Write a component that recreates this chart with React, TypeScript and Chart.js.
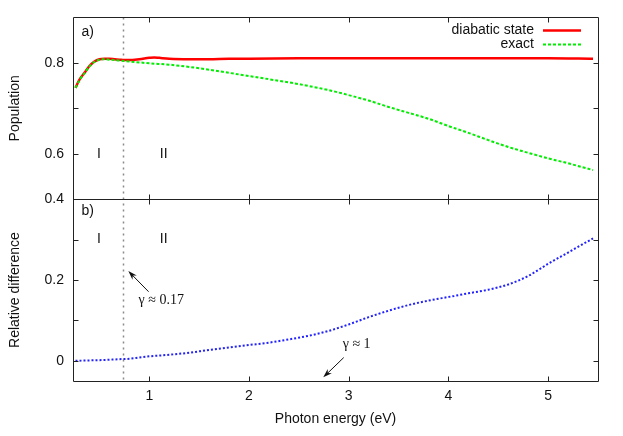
import React, { useEffect, useRef } from 'react';
import { Chart, registerables } from 'chart.js';

Chart.register(...registerables);

// ---- data ----
const diabaticX = [0.26, 0.30, 0.35, 0.40, 0.45, 0.50, 0.55, 0.60, 0.65, 0.70, 0.75, 0.80, 0.90, 1.00, 1.05, 1.10, 1.20, 1.40, 1.60, 1.80, 2.00, 2.50, 3.00, 3.50, 4.00, 4.50, 5.00, 5.45];
const diabaticY = [0.745, 0.763, 0.778, 0.793, 0.803, 0.808, 0.809, 0.809, 0.808, 0.807, 0.806, 0.806, 0.808, 0.811, 0.812, 0.811, 0.809, 0.808, 0.808, 0.809, 0.809, 0.810, 0.810, 0.810, 0.810, 0.810, 0.810, 0.809];

const exactX = [0.26, 0.30, 0.35, 0.40, 0.45, 0.50, 0.55, 0.60, 0.65, 0.70, 0.75, 0.85, 1.0, 1.2, 1.4, 1.6, 1.8, 2.0, 2.2, 2.4, 2.6, 2.8, 3.0, 3.2, 3.4, 3.6, 3.8, 4.0, 4.2, 4.4, 4.6, 4.8, 5.0, 5.2, 5.45];
const exactY = [0.745, 0.762, 0.777, 0.792, 0.802, 0.807, 0.808, 0.807, 0.806, 0.805, 0.804, 0.802, 0.799, 0.796, 0.791, 0.785, 0.778, 0.771, 0.764, 0.757, 0.749, 0.740, 0.729, 0.717, 0.703, 0.690, 0.677, 0.661, 0.646, 0.630, 0.615, 0.602, 0.590, 0.579, 0.564];

const diffX = [0.26, 0.40, 0.55, 0.70, 0.80, 0.90, 1.0, 1.1, 1.2, 1.4, 1.6, 1.8, 2.0, 2.2, 2.4, 2.6, 2.8, 3.0, 3.2, 3.4, 3.6, 3.8, 4.0, 4.2, 4.4, 4.6, 4.8, 5.0, 5.2, 5.45];
const diffY = [0.000, 0.001, 0.002, 0.004, 0.005, 0.008, 0.011, 0.013, 0.015, 0.020, 0.027, 0.033, 0.039, 0.045, 0.053, 0.062, 0.074, 0.090, 0.108, 0.124, 0.138, 0.149, 0.158, 0.167, 0.176, 0.189, 0.210, 0.240, 0.268, 0.303];

const xTickValues = [1, 2, 3, 4, 5];
const xTickLabels = ['1', '2', '3', '4', '5'];
const topTickValues = [0.5, 0.6, 0.7, 0.8, 0.9];
const topTickLabels = ['0.6', '0.8'];
const bottomTickValues = [0, 0.1, 0.2, 0.3, 0.4];
const bottomTickLabels = ['0', '0.2', '0.4'];
const seriesNames = ['diabatic state', 'exact'];

const gammaX = 0.735;

const SANS = '"Liberation Sans", Arial, Helvetica, sans-serif';
const SERIF = '"Liberation Serif", "Times New Roman", serif';
const FRAME = '#222';

function fmt(v: number): string {
  return String(Math.round(v * 1000) / 1000);
}

const overlay = {
  id: 'overlay',
  beforeDatasetsDraw(chart: any) {
    const { ctx, chartArea } = chart;
    const x = chart.scales.x;
    const px = Math.round(x.getPixelForValue(gammaX)) + 0.5;
    ctx.save();
    ctx.strokeStyle = '#8a8a8a';
    ctx.lineWidth = 1.5;
    ctx.setLineDash([2, 4]);
    ctx.beginPath();
    ctx.moveTo(px, chartArea.top);
    ctx.lineTo(px, chartArea.bottom);
    ctx.stroke();
    ctx.restore();
  },
  afterDatasetsDraw(chart: any) {
    const { ctx, chartArea } = chart;
    const x = chart.scales.x;
    const yTop = chart.scales.yTop;
    const yBot = chart.scales.yBot;
    const L = Math.round(chartArea.left) + 0.5;
    const R = Math.round(chartArea.right) + 0.5;
    const T = Math.round(chartArea.top) + 0.5;
    const B = Math.round(chartArea.bottom) + 0.5;
    const M = Math.round(yBot.top) + 0.5;
    const TL = 5;

    ctx.save();
    ctx.strokeStyle = FRAME;
    ctx.lineWidth = 1;
    ctx.setLineDash([]);
    ctx.beginPath();
    ctx.rect(L, T, R - L, B - T);
    ctx.moveTo(L, M);
    ctx.lineTo(R, M);
    // x ticks
    xTickValues.forEach((v) => {
      const p = Math.round(x.getPixelForValue(v)) + 0.5;
      ctx.moveTo(p, T); ctx.lineTo(p, T + TL);
      ctx.moveTo(p, M - TL); ctx.lineTo(p, M + TL);
      ctx.moveTo(p, B); ctx.lineTo(p, B - TL);
    });
    // y ticks
    [yTop, yBot].forEach((s: any) => {
      s.ticks.forEach((t: any) => {
        if (Math.abs(t.value - s.min) < 1e-6 || Math.abs(t.value - s.max) < 1e-6) return;
        const p = Math.round(s.getPixelForValue(t.value)) + 0.5;
        ctx.moveTo(L, p); ctx.lineTo(L + TL, p);
        ctx.moveTo(R, p); ctx.lineTo(R - TL, p);
      });
    });
    ctx.stroke();

    // texts
    ctx.fillStyle = '#111';
    ctx.font = `14px ${SANS}`;
    ctx.textBaseline = 'middle';
    ctx.textAlign = 'left';
    ctx.fillText('a)', x.getPixelForValue(0.319), yTop.getPixelForValue(0.868));
    ctx.fillText('b)', x.getPixelForValue(0.319), yBot.getPixelForValue(0.370));
    ctx.textAlign = 'center';
    ctx.fillText('I', x.getPixelForValue(0.495), yTop.getPixelForValue(0.6));
    ctx.fillText('II', x.getPixelForValue(1.145), yTop.getPixelForValue(0.6));
    ctx.fillText('I', x.getPixelForValue(0.495), yBot.getPixelForValue(0.3));
    ctx.fillText('II', x.getPixelForValue(1.145), yBot.getPixelForValue(0.3));

    // legend
    ctx.textAlign = 'right';
    const lx = chartArea.right - 64;
    const ly1 = chartArea.top + 13;
    const ly2 = chartArea.top + 27;
    ctx.fillText(seriesNames[0], lx, ly1);
    ctx.fillText(seriesNames[1], lx, ly2);
    ctx.lineWidth = 2.5;
    ctx.strokeStyle = '#ff0000';
    ctx.beginPath();
    ctx.moveTo(chartArea.right - 55, ly1);
    ctx.lineTo(chartArea.right - 17, ly1);
    ctx.stroke();
    ctx.lineWidth = 2;
    ctx.strokeStyle = '#00ee00';
    ctx.setLineDash([3, 2]);
    ctx.beginPath();
    ctx.moveTo(chartArea.right - 55, ly2);
    ctx.lineTo(chartArea.right - 17, ly2);
    ctx.stroke();
    ctx.setLineDash([]);

    // gamma annotations
    ctx.font = `14px ${SERIF}`;
    ctx.textAlign = 'center';
    ctx.fillStyle = '#111';
    ctx.fillText('\u03B3 \u2248 0.17', x.getPixelForValue(1.12), yBot.getPixelForValue(0.149));
    ctx.fillText('\u03B3 \u2248 1', x.getPixelForValue(3.08), yBot.getPixelForValue(0.040));

    const arrow = (x0: number, y0: number, x1: number, y1: number) => {
      const a = Math.atan2(y1 - y0, x1 - x0);
      const hl = 9, hw = 3;
      ctx.strokeStyle = '#111';
      ctx.lineWidth = 1;
      ctx.beginPath();
      ctx.moveTo(x0, y0);
      ctx.lineTo(x1 - Math.cos(a) * hl * 0.6, y1 - Math.sin(a) * hl * 0.6);
      ctx.stroke();
      ctx.fillStyle = '#111';
      ctx.beginPath();
      ctx.moveTo(x1, y1);
      ctx.lineTo(x1 - hl * Math.cos(a) + hw * Math.sin(a), y1 - hl * Math.sin(a) - hw * Math.cos(a));
      ctx.lineTo(x1 - hl * 0.7 * Math.cos(a), y1 - hl * 0.7 * Math.sin(a));
      ctx.lineTo(x1 - hl * Math.cos(a) - hw * Math.sin(a), y1 - hl * Math.sin(a) + hw * Math.cos(a));
      ctx.closePath();
      ctx.fill();
    };
    arrow(x.getPixelForValue(0.993), yBot.getPixelForValue(0.171), x.getPixelForValue(0.79), yBot.getPixelForValue(0.222));
    arrow(x.getPixelForValue(2.95), yBot.getPixelForValue(0.008), x.getPixelForValue(2.745), yBot.getPixelForValue(-0.041));

    ctx.restore();
  },
};

export default function App() {
  const ref = useRef<HTMLCanvasElement | null>(null);

  useEffect(() => {
    if (!ref.current) return;
    const tickFont = { family: SANS, size: 14 };
    const chart = new Chart(ref.current, {
      type: 'line',
      data: {
        datasets: [
          {
            label: seriesNames[1],
            data: exactX.map((x, i) => ({ x, y: exactY[i] })),
            yAxisID: 'yTop',
            borderColor: '#00ee00',
            borderWidth: 2,
            borderDash: [3, 2],
            pointRadius: 0,
            fill: false,
            cubicInterpolationMode: 'monotone',
          },
          {
            label: seriesNames[0],
            data: diabaticX.map((x, i) => ({ x, y: diabaticY[i] })),
            yAxisID: 'yTop',
            borderColor: '#ff0000',
            borderWidth: 2.5,
            pointRadius: 0,
            fill: false,
            cubicInterpolationMode: 'monotone',
          },
          {
            label: 'relative difference',
            data: diffX.map((x, i) => ({ x, y: diffY[i] })),
            yAxisID: 'yBot',
            borderColor: '#2222ff',
            borderWidth: 2,
            borderDash: [2, 2],
            pointRadius: 0,
            fill: false,
            cubicInterpolationMode: 'monotone',
          },
        ],
      },
      options: {
        responsive: false,
        animation: false,
        layout: { padding: { top: 17, right: 25, left: 0, bottom: 0 } },
        plugins: { legend: { display: false }, tooltip: { enabled: false } },
        scales: {
          x: {
            type: 'linear',
            position: 'bottom',
            min: 0.235,
            max: 5.5,
            grid: { display: false, drawTicks: false },
            border: { display: false },
            afterBuildTicks: (s: any) => { s.ticks = xTickValues.map((value) => ({ value })); },
            ticks: {
              autoSkip: false,
              maxRotation: 0,
              padding: 7,
              font: tickFont,
              color: '#111',
              callback: (v: any) => {
                const s = fmt(Number(v));
                return xTickLabels.includes(s) ? s : '';
              },
            },
            title: { display: true, text: 'Photon energy (eV)', font: tickFont, color: '#111', padding: { top: 4, bottom: 8 } },
            afterFit: (s: any) => { s.height = 55; },
          },
          yBot: {
            type: 'linear',
            position: 'left',
            stack: 'panels',
            stackWeight: 1,
            min: -0.05,
            max: 0.4,
            grid: { display: false, drawTicks: false },
            border: { display: false },
            afterBuildTicks: (s: any) => { s.ticks = bottomTickValues.map((value) => ({ value })); },
            ticks: {
              autoSkip: false,
              padding: 9,
              font: tickFont,
              color: '#111',
              callback: (v: any) => {
                const s = fmt(Number(v));
                return bottomTickLabels.includes(s) ? s : '';
              },
            },
            title: { display: true, text: 'Relative difference', font: tickFont, color: '#111', padding: { top: 7, bottom: 4 } },
            afterFit: (s: any) => { s.width = 73; },
          },
          yTop: {
            type: 'linear',
            position: 'left',
            stack: 'panels',
            stackWeight: 1,
            min: 0.5,
            max: 0.9,
            grid: { display: false, drawTicks: false },
            border: { display: false },
            afterBuildTicks: (s: any) => { s.ticks = topTickValues.map((value) => ({ value })); },
            ticks: {
              autoSkip: false,
              padding: 9,
              font: tickFont,
              color: '#111',
              callback: (v: any) => {
                const s = fmt(Number(v));
                return topTickLabels.includes(s) ? s : '';
              },
            },
            title: { display: true, text: 'Population', font: tickFont, color: '#111', padding: { top: 7, bottom: 4 } },
            afterFit: (s: any) => { s.width = 73; },
          },
        },
      } as any,
      plugins: [overlay],
    });
    return () => chart.destroy();
  }, []);

  return (
    <div style={{ position: 'fixed', left: 0, top: 0, width: 623, height: 436, background: '#fff' }}>
      <canvas ref={ref} width={623} height={436} style={{ display: 'block', width: 623, height: 436 }} />
    </div>
  );
}
